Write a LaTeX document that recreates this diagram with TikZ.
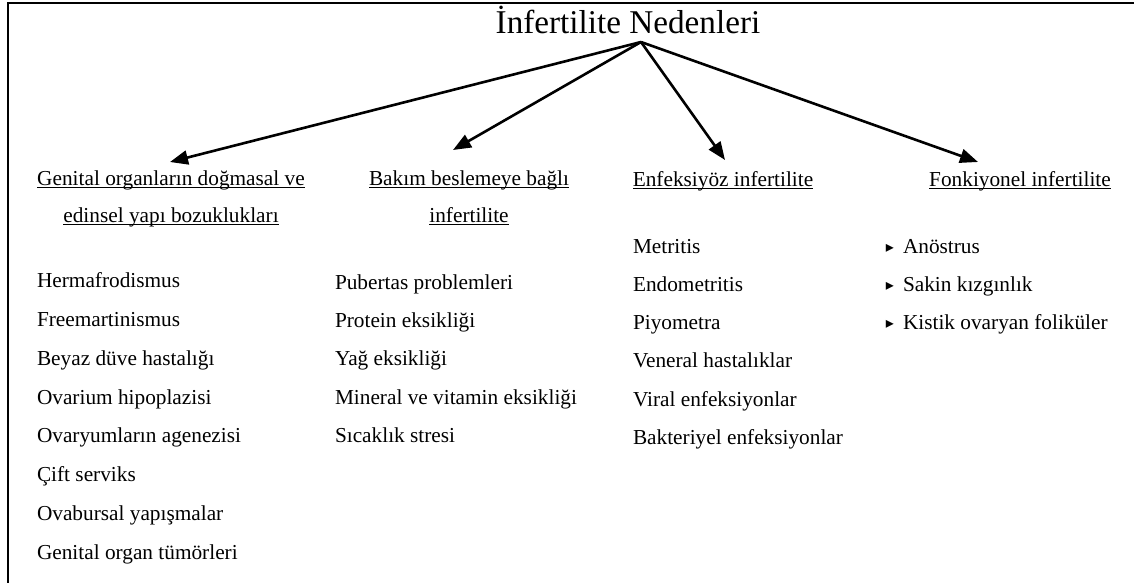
\documentclass[tikz,border=0pt]{standalone}
\usepackage{fontspec}
\setmainfont{Liberation Serif}
\newfontfamily\symfont{DejaVu Sans}
\usepackage{tikz}
\usetikzlibrary{positioning, arrows.meta}

\newcommand{\ulin}[1]{\setbox0\hbox{#1}\rlap{\rule[-1.5pt]{\wd0}{0.6pt}}\box0}
\newcommand{\itm}{\llap{\raisebox{0.3pt}{\symfont\fontsize{8}{8}\selectfont ▸}\hspace{4.5pt}}}

\begin{document}
\begin{tikzpicture}[x=0.5pt, y=-0.5pt,
  every node/.style={inner sep=0pt, outer sep=0pt},
  title/.style={anchor=base, font=\fontsize{16.6}{18}\selectfont},
  head/.style={anchor=base, font=\fontsize{10.65}{12}\selectfont},
  item/.style={anchor=base west, font=\fontsize{10.65}{12}\selectfont},
  link/.style={line width=1.3pt, -{Triangle[length=9pt, width=7pt]}}]
\useasboundingbox (0,0) rectangle (1134,583);
% frame
\draw[line width=1.2pt] (8,583) -- (8,3) -- (1134,3);

% title
\node[title] (T) at (628,34) {İnfertilite Nedenleri};
\coordinate (root) at (641,42);

% headings
\node[head] (G1) at (171,185) {\ulin{Genital organların doğmasal ve}};
\node[head] (G2) at (171,222) {\ulin{edinsel yapı bozuklukları}};
\node[head] (B1) at (469,185) {\ulin{Bakım beslemeye bağlı}};
\node[head] (B2) at (469,222) {\ulin{infertilite}};
\node[head] (E1) at (723,186) {\ulin{Enfeksiyöz infertilite}};
\node[head] (F1) at (1020,186) {\ulin{Fonkiyonel infertilite}};

% arrow tips
\coordinate (tG) at (170,162);
\coordinate (tB) at (453,150);
\coordinate (tE) at (725,160);
\coordinate (tF) at (978,162);

% genital
\node[item] (A1) at (37,287) {Hermafrodismus};
\node[item] (A2) at (37,326) {Freemartinismus};
\node[item] (A3) at (37,365) {Beyaz düve hastalığı};
\node[item] (A4) at (37,404) {Ovarium hipoplazisi};
\node[item] (A5) at (37,442) {Ovaryumların agenezisi};
\node[item] (A6) at (37,481) {Çift serviks};
\node[item] (A7) at (37,520) {Ovabursal yapışmalar};
\node[item] (A8) at (37,559) {Genital organ tümörleri};
% bakim
\node[item] (C1) at (335,289) {Pubertas problemleri};
\node[item] (C2) at (335,327) {Protein eksikliği};
\node[item] (C3) at (335,365) {Yağ eksikliği};
\node[item] (C4) at (335,404) {Mineral ve vitamin eksikliği};
\node[item] (C5) at (335,442) {Sıcaklık stresi};
% enfeksiyoz
\node[item] (D1) at (633,253) {Metritis};
\node[item] (D2) at (633,291) {Endometritis};
\node[item] (D3) at (633,329) {Piyometra};
\node[item] (D4) at (633,367) {Veneral hastalıklar};
\node[item] (D5) at (633,406) {Viral enfeksiyonlar};
\node[item] (D6) at (633,444) {Bakteriyel enfeksiyonlar};
% fonksiyonel
\node[item] (K1) at (903,253) {\itm Anöstrus};
\node[item] (K2) at (903,291) {\itm Sakin kızgınlık};
\node[item] (K3) at (903,329) {\itm Kistik ovaryan foliküler};

% relations
\draw[link] (root) -- (tG); \draw[link] (root) -- (tB);
\draw[link] (root) -- (tE); \draw[link] (root) -- (tF);
\end{tikzpicture}
\end{document}
